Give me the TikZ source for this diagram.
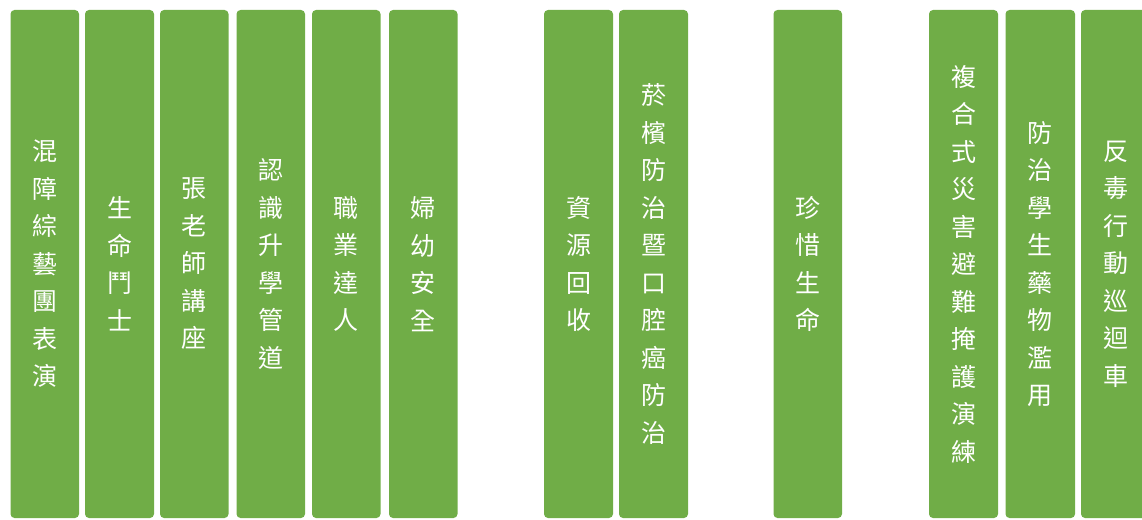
\documentclass[tikz,border=0pt]{standalone}
\usepackage{fontspec}
\newfontfamily\cjk{Noto Sans CJK TC}
\definecolor{barg}{HTML}{70AD47}
\begin{document}
\begin{tikzpicture}[x=1pt,y=-1pt,
  bar/.style={fill=barg, rounded corners=4pt, inner sep=0pt, minimum height=508pt, text=white, align=center, font=\cjk\fontsize{25}{37.5}\selectfont}]
\useasboundingbox (0,0) rectangle (1142,519);
\clip (0,0) rectangle (1142,519);
\foreach \l/\r/\t [count=\i] in {
  10.5/79/{混\\障\\綜\\藝\\團\\表\\演},
  85/154/{生\\命\\鬥\\士},
  160/228.5/{張\\老\\師\\講\\座},
  236.5/305/{認\\識\\升\\學\\管\\道},
  312/380.5/{職\\業\\達\\人},
  389/457.5/{婦\\幼\\安\\全},
  544/613/{資\\源\\回\\收},
  619/688/{菸\\檳\\防\\治\\暨\\口\\腔\\癌\\防\\治},
  773.5/842/{珍\\惜\\生\\命},
  929/998/{複\\合\\式\\災\\害\\避\\難\\掩\\護\\演\\練},
  1005.5/1075/{防\\治\\學\\生\\藥\\物\\濫\\用},
  1081/1150/{反\\毒\\行\\動\\巡\\迴\\車}} {
  \node[bar, minimum width={(\r-\l)*1pt}] (b\i) at ({(\l+\r)/2},264) {\t};
}
\end{tikzpicture}
\end{document}
